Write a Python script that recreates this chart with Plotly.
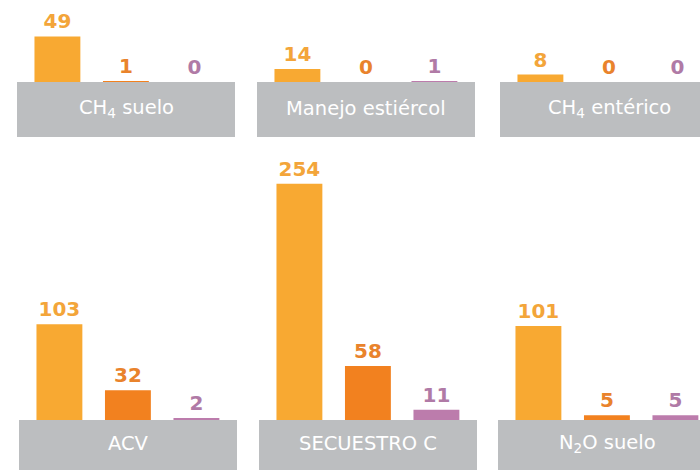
import plotly.graph_objects as go

# ---- data ----
panels = ["CH<sub>4</sub> suelo", "Manejo estiércol", "CH<sub>4</sub> entérico",
          "ACV", "SECUESTRO C", "N<sub>2</sub>O suelo"]
serie_a = [49, 14, 8, 103, 254, 101]   # amarillo
serie_b = [1, 0, 0, 32, 58, 5]         # naranja
serie_c = [0, 1, 0, 2, 11, 5]          # morado

bar_colors = ["#F8A932", "#F2811F", "#BC7CAC"]
text_colors = ["#F3A53A", "#E9832C", "#B07AA6"]
box_color = "#BCBEC0"

W, H = 700, 470
# pixel layout of each panel: (box left, box top, box bottom, plot top)
layout_px = [
    (17, 82, 137, 0), (257, 82, 137, 0), (500, 82, 137, 0),
    (19, 420, 470, 150), (259, 420, 470, 150), (498, 420, 470, 150),
]
box_w = 218
px_per_cat = 68.5
px_per_unit = 0.93

fig = go.Figure()
shapes = []
annotations = []
for i, name in enumerate(panels):
    left, btop, bbot, ptop = layout_px[i]
    right = min(left + box_w, W)
    vals = [serie_a[i], serie_b[i], serie_c[i]]
    ax = "" if i == 0 else str(i + 1)
    fig.add_trace(go.Bar(
        x=[0, 1, 2], y=vals, width=0.67,
        marker=dict(color=bar_colors, line=dict(width=0)),
        text=[str(v) for v in vals], textposition="outside",
        textfont=dict(family="DejaVu Sans", size=20, color=text_colors, weight=700),
        cliponaxis=False, showlegend=False, hoverinfo="skip",
        xaxis="x" + ax, yaxis="y" + ax,
    ))
    xr0 = -0.59
    xr1 = xr0 + (right - left) / px_per_cat
    yr1 = (btop - ptop) / px_per_unit
    fig.layout["xaxis" + ax] = dict(domain=[left / W, right / W], range=[xr0, xr1],
                                    visible=False, fixedrange=True)
    fig.layout["yaxis" + ax] = dict(domain=[1 - btop / H, 1 - ptop / H], range=[0, yr1],
                                    visible=False, fixedrange=True)
    shapes.append(dict(type="rect", xref="paper", yref="paper",
                       x0=left / W, x1=(left + box_w) / W,
                       y0=1 - bbot / H, y1=1 - btop / H,
                       fillcolor=box_color, line=dict(width=0), layer="below"))
    annotations.append(dict(text=name, xref="paper", yref="paper",
                            x=(left + box_w / 2) / W,
                            y=1 - ((btop + bbot) / 2 - 1.5) / H,
                            xanchor="center", yanchor="middle", showarrow=False,
                            font=dict(family="DejaVu Sans", size=19.5, color="white")))

fig.update_layout(width=W, height=H, margin=dict(l=0, r=0, t=0, b=0),
                  paper_bgcolor="white", plot_bgcolor="rgba(0,0,0,0)",
                  shapes=shapes, annotations=annotations, bargap=0.33)
fig.write_html("out.html", config={"displayModeBar": False},
               post_script="document.body.style.margin='0';document.body.style.overflow='hidden';")
